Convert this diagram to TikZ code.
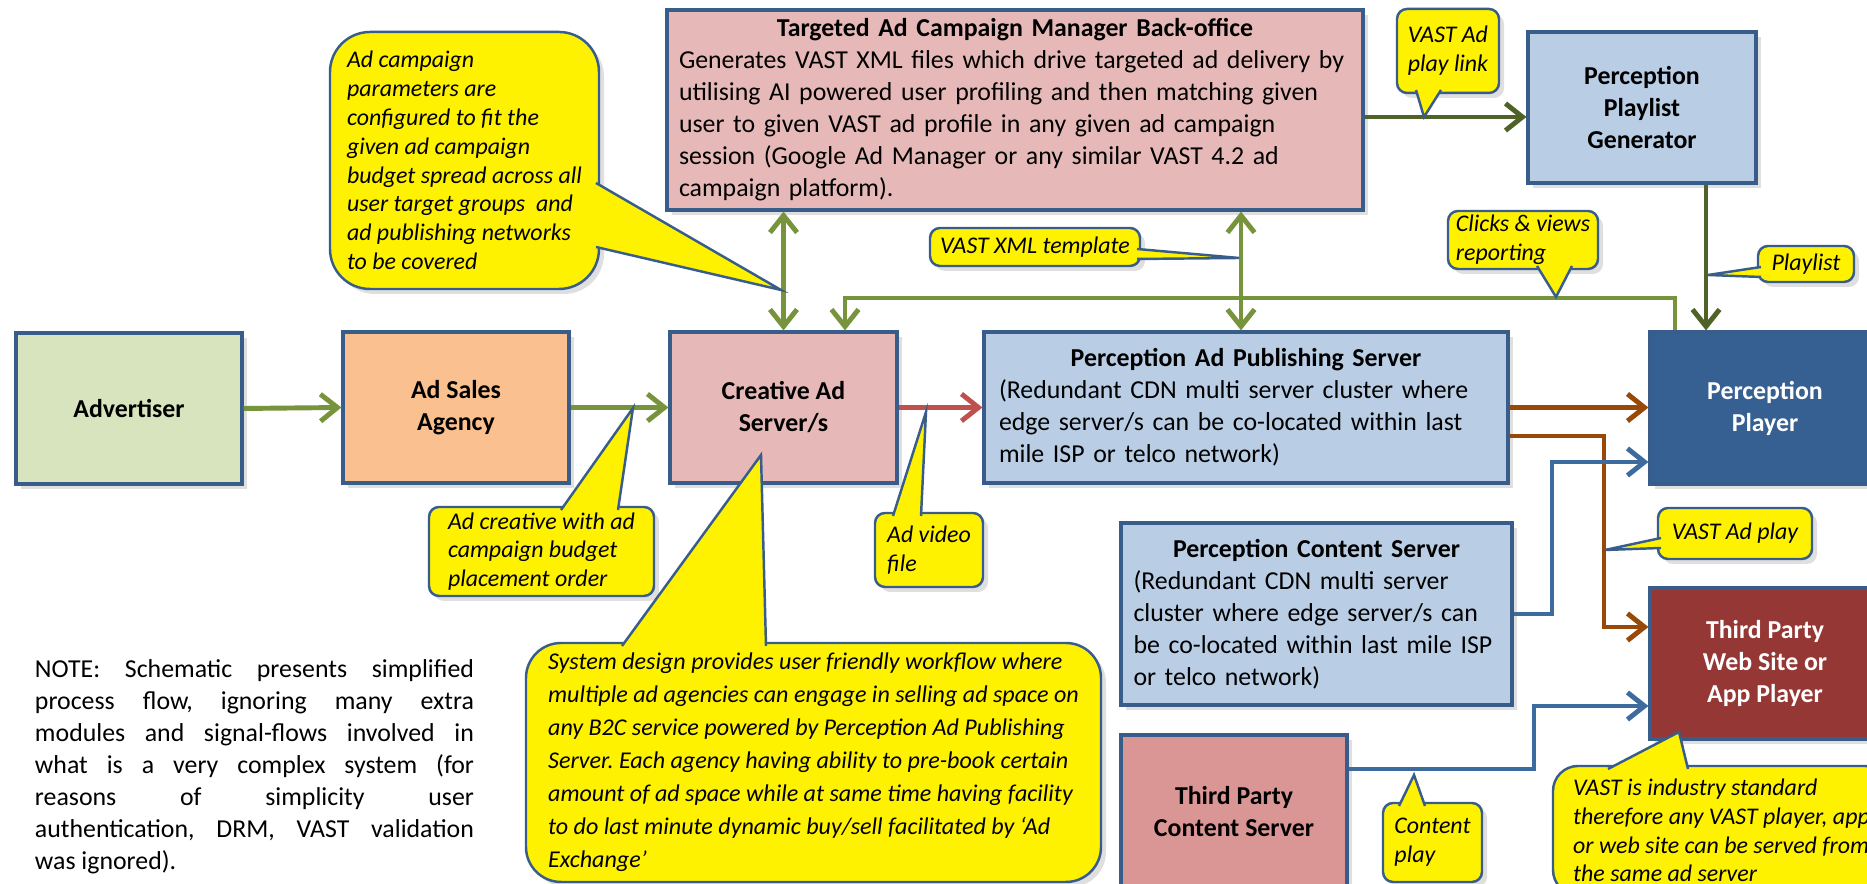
\documentclass[tikz,border=0pt]{standalone}
\usepackage{fontspec}
\setmainfont{Carlito}
\usetikzlibrary{arrows.meta,shadows}

\definecolor{bordblue}{HTML}{385D8A}
\definecolor{paleblue}{HTML}{B9CDE5}
\definecolor{palegreen}{HTML}{D7E4BD}
\definecolor{paleorange}{HTML}{FAC090}
\definecolor{palerose}{HTML}{E6B9B8}
\definecolor{rose}{HTML}{D99694}
\definecolor{darkblue}{HTML}{376092}
\definecolor{darkred}{HTML}{953735}
\definecolor{flowgreen}{HTML}{77933C}
\definecolor{deepgreen}{HTML}{4F6228}
\definecolor{flowred}{HTML}{C0504D}
\definecolor{flowbrown}{HTML}{984807}
\definecolor{flowblue}{HTML}{3E6B9E}

\newcommand{\boxfont}{\fontsize{7.35}{9.1}\selectfont}
\newcommand{\notefont}{\fontsize{6.8}{8.2}\selectfont\itshape}
\newcommand{\sysfont}{\fontsize{6.85}{9.4}\selectfont\itshape}
% one justified line of the remark
\newcommand{\fullline}[1]{\hbox to 4.39cm{\spaceskip=1.66pt plus 1fil\relax #1}}

% yellow pointer of a callout: two base points (just inside the bubble), tip
\newcommand{\notetip}[3]{%
  \fill[yellow] (#1) -- (#3) -- (#2) -- cycle;
  \draw[bordblue,line width=0.7pt] (#1) -- (#3) -- (#2);}

\begin{document}
\frenchspacing
\begin{tikzpicture}[x=1cm,y=1cm,
  unit/.style={draw=bordblue,line width=0.9pt,inner sep=0pt,font=\boxfont,
    drop shadow={opacity=0.25,shadow xshift=0.05cm,shadow yshift=-0.05cm}},
  block/.style={unit,font=\boxfont\bfseries,align=center},
  note/.style={draw=bordblue,line width=0.7pt,fill=yellow,rounded corners=0.1cm,
    font=\notefont,align=left,inner sep=0pt,
    drop shadow={opacity=0.25,shadow xshift=0.05cm,shadow yshift=-0.05cm}},
  flow/.style={line width=1.4pt,-{Straight Barb[length=1.7mm,width=2.7mm]}},
  twoway/.style={line width=1.4pt,
    {Straight Barb[length=1.7mm,width=2.7mm]}-{Straight Barb[length=1.7mm,width=2.7mm]}}]
  \useasboundingbox[fill=white] (0,0) rectangle (18.67,8.84);

  % main flow
  \node[block,fill=palegreen,minimum width=2.26cm,minimum height=1.51cm] (adv) at (1.29,4.755) {Advertiser};
  \node[block,fill=paleorange,minimum width=2.26cm,minimum height=1.51cm] (agency) at (4.56,4.765) {Ad Sales\\Agency};
  \node[block,fill=palerose,minimum width=2.27cm,minimum height=1.51cm] (creative) at (7.835,4.765) {Creative Ad\\Server/s};
  \node[unit,fill=paleblue,minimum width=5.24cm,minimum height=1.51cm,text width=4.94cm,align=left] (pub) at (12.46,4.765)
    {{\centering\bfseries Perception Ad Publishing Server\par}(Redundant CDN multi server cluster where\\
     edge server/s can be co-located within last\\mile ISP or telco network)};
  \node[block,fill=darkblue,text=white,minimum width=2.30cm,minimum height=1.52cm] (player) at (17.65,4.76) {Perception\\Player};
  \node[block,fill=darkred,text=white,minimum width=2.30cm,minimum height=1.51cm] (web) at (17.65,2.205) {Third Party\\Web Site or\\App Player};

  % back-office and playlist
  \node[unit,fill=palerose,minimum width=6.96cm,minimum height=2cm,text width=6.72cm,align=left] (back) at (10.15,7.74)
    {{\centering\bfseries Targeted Ad Campaign Manager Back-office\par}Generates VAST XML files which drive targeted ad delivery by\\
     utilising AI powered user profiling and then matching given\\
     user to given VAST ad profile in any given ad campaign\\
     session (Google Ad Manager or any similar VAST 4.2 ad\\
     campaign platform).};
  \node[block,fill=paleblue,minimum width=2.28cm,minimum height=1.51cm] (gen) at (16.42,7.765) {Perception\\Playlist\\Generator};

  % content sources
  \node[unit,fill=paleblue,minimum width=3.91cm,minimum height=1.82cm,text width=3.66cm,align=left] (content) at (13.165,2.70)
    {{\centering\bfseries Perception Content Server\par}(Redundant CDN multi server\\
     cluster where edge server/s can\\be co-located within last mile ISP\\or telco network)};
  \node[block,fill=rose,minimum width=2.26cm,minimum height=1.54cm] (tpcs) at (12.34,0.72) {Third Party\\Content Server};

  % connectors
  \draw[flow,flowgreen] (adv.east) -- (agency.west);
  \draw[flow,flowgreen] (agency.east) -- (creative.west);
  \draw[flow,flowred] (creative.east) -- (pub.west);
  \draw[flow,flowbrown] (pub.east) -- (pub.east -| player.west);
  \draw[flow,flowbrown] (pub.east |- 0,4.48) -| (16.04,2.57) -- (web.west |- 0,2.57);
  \draw[flow,flowblue] (content.east) -| (15.52,4.22) -- (player.west |- 0,4.22);
  \draw[flow,flowblue] (tpcs.east |- 0,1.15) -| (15.34,1.78) -- (web.west |- 0,1.78);
  \draw[twoway,flowgreen] (creative.north |- back.south) -- (creative.north);
  \coordinate (xfer) at (12.41,0);
  \draw[twoway,flowgreen] (xfer |- back.south) -- (xfer |- pub.north);
  \draw[flow,flowgreen] ([xshift=-0.9cm]player.north) |- (8.45,5.86) -- (8.45,5.86 |- creative.north);
  \draw[flow,deepgreen] (back.east |- 0,7.67) -- (gen.west |- 0,7.67);
  \draw[flow,deepgreen] (17.06,0 |- gen.south) -- (17.06,0 |- player.north);

  % callouts
  \node[note,rounded corners=0.4cm,minimum width=2.69cm,minimum height=2.57cm] (cfgnote) at (4.645,7.235)
    {Ad campaign\\parameters are\\configured to fit the\\given ad campaign\\budget spread across all\\
     user target groups\ \ and\\ad publishing networks\\to be covered};
  \notetip{5.96,7.01}{5.96,6.37}{7.81,5.94}
  \node[note,minimum width=2.10cm,minimum height=0.38cm] (tplnote) at (10.35,6.37) {VAST XML template};
  \notetip{11.37,6.35}{11.37,6.25}{12.39,6.26}
  \node[note,minimum width=1.02cm,minimum height=0.84cm] (linknote) at (14.48,8.33) {VAST Ad\\play link};
  \notetip{14.16,7.94}{14.41,7.94}{14.24,7.67}
  \node[note,minimum width=1.50cm,minimum height=0.58cm] (clicknote) at (15.23,6.44) {Clicks \& views\\reporting};
  \notetip{15.37,6.18}{15.72,6.18}{15.56,5.87}
  \node[note,minimum width=0.96cm,minimum height=0.36cm] (listnote) at (18.06,6.20) {Playlist};
  \notetip{17.61,6.17}{17.61,6.07}{17.08,6.09}
  \node[note,minimum width=2.25cm,minimum height=0.89cm] (creanote) at (5.415,3.325)
    {Ad creative with ad\\campaign budget\\placement order};
  \notetip{5.61,3.74}{6.18,3.74}{6.33,4.76}
  \node[note,minimum width=1.08cm,minimum height=0.74cm] (videonote) at (9.29,3.34) {Ad video\\file};
  \notetip{8.93,3.68}{9.21,3.68}{9.26,4.72}
  \node[note,rounded corners=0.35cm,minimum width=5.75cm,minimum height=2.39cm,font=\sysfont] (sysnote) at (8.135,1.215)
    {System design provides user friendly workflow where\\
     multiple ad agencies can engage in selling ad space on\\
     any B2C service powered by Perception Ad Publishing\\
     Server. Each agency having ability to pre-book certain\\
     amount of ad space while at same time having facility\\
     to do last minute dynamic buy/sell facilitated by ‘Ad\\
     Exchange’};
  \notetip{6.22,2.38}{7.66,2.38}{7.61,4.29}
  \node[note,minimum width=1.54cm,minimum height=0.51cm] (playnote) at (17.35,3.505) {VAST Ad play};
  \notetip{16.61,3.46}{16.61,3.36}{16.05,3.34}
  \node[note,minimum width=0.99cm,minimum height=0.79cm] (contnote) at (14.325,0.415) {Content\\play};
  \notetip{13.99,0.78}{14.25,0.78}{14.14,1.09}
  \node[note,rounded corners=0.25cm,minimum width=3.37cm,minimum height=1.29cm] (vastnote) at (17.215,0.535)
    {VAST is industry standard\\therefore any VAST player, app\\or web site can be served from\\the same ad server};
  \notetip{16.08,1.15}{16.88,1.15}{16.79,1.52}

  % remark
  \node[font=\boxfont,text width=4.39cm,inner sep=0pt] (remark) at (2.545,1.17)
    {\fullline{NOTE: Schematic presents simplified}
     \fullline{process flow, ignoring many extra}
     \fullline{modules and signal-flows involved in}
     \fullline{what is a very complex system (for}
     \fullline{reasons of simplicity user}
     \fullline{authentication, DRM, VAST validation}
     \fullline{was ignored).\hfill}};
\end{tikzpicture}
\end{document}
